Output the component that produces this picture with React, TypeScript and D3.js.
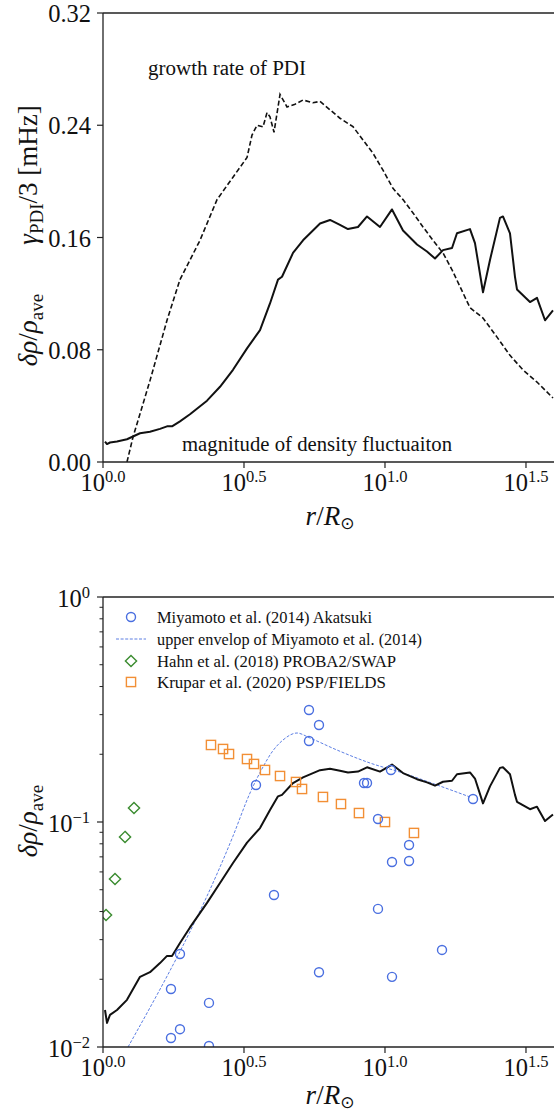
import React from 'react';
import * as d3 from 'd3';

// ---------- data ----------
const xTickExps = ['0.0', '0.5', '1.0', '1.5'];
const topYTicks = [0, 0.08, 0.16, 0.24, 0.32];
const bottomYTickExps = [-2, -1, 0];

// magnitude of density fluctuation (solid black)
const fluctR = [1.0165, 1.0332, 1.0588, 1.1211, 1.2163, 1.3529, 1.4678, 1.5925, 1.6866, 1.757, 1.875, 2.0346, 2.3382, 2.5999, 2.8907, 3.2416, 3.6044, 3.9101, 4.1745, 4.3132, 4.7186, 5.121, 5.8837, 6.3826, 6.9238, 7.3914, 8.0208, 8.6353, 9.6004, 10.589, 11.585, 12.988, 14.091, 15.043, 16.058, 17.286, 17.999, 20.017, 20.851, 22.263, 23.57, 25.57, 26.203, 27.751, 28.907, 29.383, 32.676, 34.594, 36.938, 39.422];
const fluctV = [0.0146, 0.0128, 0.0139, 0.0146, 0.0162, 0.0205, 0.0215, 0.0236, 0.0254, 0.0254, 0.029, 0.034, 0.0437, 0.0536, 0.0657, 0.081, 0.094, 0.113, 0.13, 0.132, 0.149, 0.158, 0.17, 0.1725, 0.169, 0.166, 0.1675, 0.175, 0.1675, 0.18, 0.165, 0.155, 0.15, 0.145, 0.151, 0.1525, 0.163, 0.166, 0.156, 0.121, 0.144, 0.174, 0.175, 0.163, 0.132, 0.123, 0.114, 0.117, 0.101, 0.108];

// growth rate of PDI (dashed black)
const growthR = [1.2163, 1.2777, 1.4678, 1.6866, 1.875, 2.208, 2.537, 2.8907, 3.2416, 3.3759, 3.5163, 3.6933, 3.816, 3.9101, 4.0404, 4.2441, 4.4932, 4.7966, 5.121, 5.5552, 5.8837, 6.3826, 6.9238, 7.7006, 8.356, 9.0705, 9.8377, 10.675, 11.585, 12.572, 13.64, 14.801, 16.058, 17.286, 20.017, 22.263, 24.963, 27.751, 30.861, 34.594, 39.422];
const growthV = [0, 0.0178, 0.058, 0.101, 0.13, 0.158, 0.187, 0.203, 0.217, 0.233, 0.24, 0.2388, 0.249, 0.246, 0.235, 0.262, 0.253, 0.255, 0.258, 0.256, 0.257, 0.251, 0.245, 0.239, 0.2295, 0.22, 0.208, 0.195, 0.187, 0.1775, 0.1675, 0.158, 0.149, 0.137, 0.11, 0.1026, 0.089, 0.076, 0.0656, 0.057, 0.0456];

// Miyamoto et al. (2014) Akatsuki
const miyaR = [3.488, 5.376, 5.834, 5.376, 10.5, 8.425, 8.635, 9.445, 20.52, 12.17, 10.59, 12.17, 4.04, 9.445, 15.93, 5.834, 10.59, 1.875, 1.742, 2.376, 1.875, 1.742, 2.376];
const miyaV = [0.1461, 0.3147, 0.2699, 0.2291, 0.1703, 0.149, 0.149, 0.1031, 0.1265, 0.079, 0.0664, 0.0671, 0.0474, 0.0411, 0.027, 0.0215, 0.0205, 0.0259, 0.0181, 0.0157, 0.012, 0.01096, 0.0101];

// upper envelop of Miyamoto et al. (2014)
const envR = [1.227, 2.89, 3.321, 3.693, 3.975, 4.348, 4.875, 5.42, 6.755, 8.847, 11.58, 15.29, 20.02];
const envV = [0.01, 0.0865, 0.1345, 0.1756, 0.2047, 0.2314, 0.2486, 0.2362, 0.2089, 0.1829, 0.1651, 0.1461, 0.1292];

// Hahn et al. (2018) PROBA2/SWAP
const hahnR = [1.025, 1.103, 1.197, 1.288];
const hahnV = [0.0386, 0.0558, 0.0858, 0.1154];

// Krupar et al. (2020) PSP/FIELDS
const krupR = [2.415, 2.665, 2.798, 3.241, 3.431, 3.754, 4.244, 4.835, 5.079, 6.026, 6.982, 8.087, 10.0, 12.67];
const krupV = [0.22, 0.2111, 0.2005, 0.1905, 0.1811, 0.1703, 0.1601, 0.1506, 0.1402, 0.1292, 0.1202, 0.1096, 0.1, 0.0894];

const legendLabels = [
  'Miyamoto et al. (2014) Akatsuki',
  'upper envelop of Miyamoto et al. (2014)',
  'Hahn et al. (2018) PROBA2/SWAP',
  'Krupar et al. (2020) PSP/FIELDS',
];

// ---------- styling ----------
const SERIF = '"Liberation Serif", "Times New Roman", serif';
const AX = '#222';
const BLUE = '#4a6fe0';
const GREEN = '#3b8c30';
const ORANGE = '#f28f35';
const legendTextLengths = [215, 265, 239, 229];

export default function App() {
  const W = 554, H = 1112;
  const left = 103, right = 557;
  const topT = 13, topB = 462;
  const botT = 597, botB = 1047;

  const x = d3.scaleLog().domain([1, Math.pow(10, 1.61)]).range([left, right]);
  const yTop = d3.scaleLinear().domain([0, 0.32]).range([topB, topT]);
  const yBot = d3.scaleLog().domain([0.01, 1]).range([botB, botT]);

  const fluct = fluctR.map((r, i) => [r, fluctV[i]] as [number, number]);
  const growth = growthR.map((r, i) => [r, growthV[i]] as [number, number]);
  const env = envR.map((r, i) => [r, envV[i]] as [number, number]);

  const lineTop = d3.line<[number, number]>().x(d => x(d[0])).y(d => yTop(d[1]));
  const lineBot = d3.line<[number, number]>().x(d => x(d[0])).y(d => yBot(d[1]));
  const lineEnv = d3.line<[number, number]>().x(d => x(d[0])).y(d => yBot(d[1])).curve(d3.curveMonotoneX);

  const minorTicks: number[] = [];
  for (let e = -2; e < 0; e++) for (let k = 2; k <= 9; k++) minorTicks.push(k * Math.pow(10, e));

  const sq = 4.6;
  const dm = 5.6;
  const cr = 4.5;

  const xTicks = (axisY: number) => xTickExps.map(t => {
    const px = x(Math.pow(10, parseFloat(t)));
    return (
      <g key={t}>
        <line x1={px} x2={px} y1={axisY} y2={axisY + 6} stroke={AX} strokeWidth={1.2} />
        <text x={px} y={axisY + 28.5} textAnchor="middle" fontFamily={SERIF} fontSize={24.5} fill="#111">
          <tspan>10</tspan><tspan dy={-9} fontSize={16.5}>{t}</tspan>
        </text>
      </g>
    );
  });

  const xLabel = (baseY: number) => (
    <text x={330} y={baseY} textAnchor="middle" fontFamily={SERIF} fontSize={27} fill="#111">
      <tspan fontStyle="italic">r</tspan><tspan>/</tspan><tspan fontStyle="italic">R</tspan>
      <tspan dy={4} fontSize={17} fontFamily='"DejaVu Sans", sans-serif'>⊙</tspan>
    </text>
  );

  const legendRows = [617, 639, 661, 682];
  const lx = 131;

  return (
    <svg width={W} height={H} style={{ position: 'absolute', left: 0, top: 0, background: '#fff' }}>
      <defs>
        <clipPath id="clipTop"><rect x={left} y={topT} width={right - left} height={topB - topT} /></clipPath>
        <clipPath id="clipBot"><rect x={left} y={botT} width={right - left} height={botB - botT} /></clipPath>
      </defs>
      <rect x={0} y={0} width={W} height={H} fill="#fff" />

      {/* ---------------- TOP PANEL ---------------- */}
      <g clipPath="url(#clipTop)">
        <path d={lineTop(growth) || ''} fill="none" stroke="#111" strokeWidth={1.6} strokeDasharray="5,2.6" />
        <path d={lineTop(fluct) || ''} fill="none" stroke="#111" strokeWidth={2} strokeLinejoin="round" />
      </g>
      <line x1={left} x2={right} y1={topT} y2={topT} stroke={AX} strokeWidth={1.3} />
      <line x1={left} x2={right} y1={topB} y2={topB} stroke={AX} strokeWidth={1.3} />
      <line x1={left} x2={left} y1={topT} y2={topB} stroke={AX} strokeWidth={1.3} />
      {topYTicks.map(t => (
        <g key={t}>
          <line x1={left - 6} x2={left} y1={yTop(t)} y2={yTop(t)} stroke={AX} strokeWidth={1.2} />
          <text x={91} y={yTop(t) + 9} textAnchor="end" fontFamily={SERIF} fontSize={24.5} fill="#111">{t.toFixed(2)}</text>
        </g>
      ))}
      {xTicks(topB)}
      {xLabel(525)}
      <text x={148} y={75} fontFamily={SERIF} fontSize={20.5} fill="#111" textLength={158} lengthAdjust="spacingAndGlyphs">growth rate of PDI</text>
      <text x={182} y={451} fontFamily={SERIF} fontSize={20.5} fill="#111" textLength={270} lengthAdjust="spacingAndGlyphs">magnitude of density fluctuaiton</text>
      <text transform="translate(37,330) rotate(-90)" textAnchor="middle" fontFamily={SERIF} fontSize={27} fill="#111">
        <tspan fontStyle="italic">δρ</tspan><tspan>/</tspan><tspan fontStyle="italic">ρ</tspan><tspan dy={6} fontSize={19}>ave</tspan>
      </text>
      <text transform="translate(37,175) rotate(-90)" textAnchor="middle" fontFamily={SERIF} fontSize={27} fill="#111">
        <tspan fontStyle="italic">γ</tspan><tspan dy={6} fontSize={19}>PDI</tspan><tspan dy={-6}>/3 [mHz]</tspan>
      </text>

      {/* ---------------- BOTTOM PANEL ---------------- */}
      <g clipPath="url(#clipBot)">
        <path d={lineEnv(env) || ''} fill="none" stroke={BLUE} strokeWidth={0.9} strokeDasharray="3,1.6" />
        <path d={lineBot(fluct) || ''} fill="none" stroke="#111" strokeWidth={2} strokeLinejoin="round" />
        {hahnR.map((r, i) => {
          const cx = x(r), cy = yBot(hahnV[i]);
          return <path key={'h' + i} d={`M${cx},${cy - dm}L${cx + dm},${cy}L${cx},${cy + dm}L${cx - dm},${cy}Z`} fill="none" stroke={GREEN} strokeWidth={1.4} />;
        })}
        {krupR.map((r, i) => (
          <rect key={'k' + i} x={x(r) - sq} y={yBot(krupV[i]) - sq} width={2 * sq} height={2 * sq} fill="none" stroke={ORANGE} strokeWidth={1.4} />
        ))}
        {miyaR.map((r, i) => (
          <circle key={'m' + i} cx={x(r)} cy={yBot(miyaV[i])} r={cr} fill="none" stroke={BLUE} strokeWidth={1.4} />
        ))}
      </g>
      <line x1={left} x2={right} y1={botT} y2={botT} stroke={AX} strokeWidth={1.3} />
      <line x1={left} x2={right} y1={botB} y2={botB} stroke={AX} strokeWidth={1.3} />
      <line x1={left} x2={left} y1={botT} y2={botB} stroke={AX} strokeWidth={1.3} />
      {minorTicks.map(t => (
        <line key={t} x1={left - 3.5} x2={left} y1={yBot(t)} y2={yBot(t)} stroke={AX} strokeWidth={1} />
      ))}
      {bottomYTickExps.map(e => {
        const py = yBot(Math.pow(10, e));
        return (
          <g key={e}>
            <line x1={left - 6} x2={left} y1={py} y2={py} stroke={AX} strokeWidth={1.2} />
            <text x={90} y={py + 10} textAnchor="end" fontFamily={SERIF} fontSize={24.5} fill="#111">
              <tspan>10</tspan><tspan dy={-9.5} fontSize={16.5}>{e < 0 ? '\u2212' + Math.abs(e) : String(e)}</tspan>
            </text>
          </g>
        );
      })}
      {xTicks(botB)}
      {xLabel(1104)}
      <text transform="translate(37,821) rotate(-90)" textAnchor="middle" fontFamily={SERIF} fontSize={27} fill="#111">
        <tspan fontStyle="italic">δρ</tspan><tspan>/</tspan><tspan fontStyle="italic">ρ</tspan><tspan dy={6} fontSize={19}>ave</tspan>
      </text>

      {/* legend */}
      <circle cx={lx} cy={legendRows[0]} r={cr} fill="none" stroke={BLUE} strokeWidth={1.4} />
      <line x1={116} x2={146} y1={legendRows[1]} y2={legendRows[1]} stroke={BLUE} strokeWidth={0.9} strokeDasharray="3,1.6" />
      <path d={`M${lx},${legendRows[2] - dm}L${lx + dm},${legendRows[2]}L${lx},${legendRows[2] + dm}L${lx - dm},${legendRows[2]}Z`} fill="none" stroke={GREEN} strokeWidth={1.4} />
      <rect x={lx - sq} y={legendRows[3] - sq} width={2 * sq} height={2 * sq} fill="none" stroke={ORANGE} strokeWidth={1.4} />
      {legendLabels.map((l, i) => (
        <text key={l} x={157} y={legendRows[i] + 5.5} fontFamily={SERIF} fontSize={17.5} fill="#111"
          textLength={legendTextLengths[i]} lengthAdjust="spacingAndGlyphs">{l}</text>
      ))}
    </svg>
  );
}
